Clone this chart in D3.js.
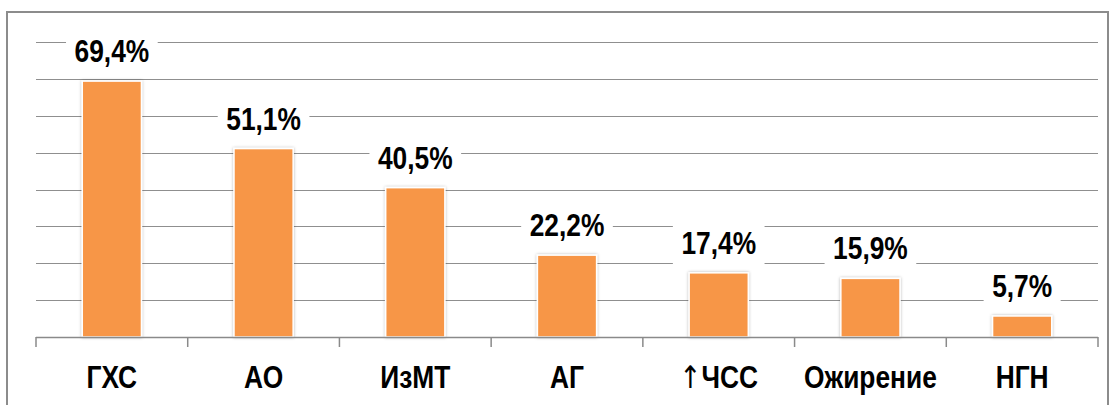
<!DOCTYPE html>
<html>
<head>
<meta charset="utf-8">
<script src="https://cdn.jsdelivr.net/npm/d3@7"></script>
<style>
  body { margin: 0; background: #fff; }
  svg text { font-family: "Liberation Sans Narrow", "Arial Narrow", "Liberation Sans", Arial, sans-serif; font-weight: bold; }
</style>
</head>
<body>
<div id="chart"></div>
<script>
var categories = ["ГХС", "АО", "ИзМТ", "АГ", "↑ЧСС", "Ожирение", "НГН"];
var values = [69.4, 51.1, 40.5, 22.2, 17.4, 15.9, 5.7];
var gridTicks = [10, 20, 30, 40, 50, 60, 70, 80];

var width = 1116, height = 405;
var plotLeft = 36, plotRight = 1098, plotTop = 42, plotBottom = 337;
var squeeze = 0.85; // narrow font look

var svg = d3.select("#chart").append("svg").attr("width", width).attr("height", height);

var defs = svg.append("defs");
var f = defs.append("filter").attr("id", "shadow").attr("x", "-20%").attr("y", "-20%").attr("width", "140%").attr("height", "140%");
f.append("feDropShadow").attr("dx", 0).attr("dy", 0).attr("stdDeviation", 1.5).attr("flood-color", "#000").attr("flood-opacity", 0.3);

// outer border
svg.append("rect").attr("x", 7).attr("y", 12).attr("width", 1101).attr("height", 400)
    .attr("fill", "none").attr("stroke", "#8c8c8c").attr("stroke-width", 2);

var x = d3.scaleBand().domain(categories).range([plotLeft, plotRight]).paddingInner(0.61).paddingOuter(0.305);
var y = d3.scaleLinear().domain([0, 80]).range([plotBottom, plotTop]);

// gridlines
svg.append("g").selectAll("line").data(gridTicks).enter().append("line")
    .attr("x1", plotLeft).attr("x2", plotRight)
    .attr("y1", function (d) { return Math.round(y(d)) + 0.5; })
    .attr("y2", function (d) { return Math.round(y(d)) + 0.5; })
    .attr("stroke", "#8f8f8f").attr("stroke-width", 1.2);

// bars
svg.append("g").selectAll("rect").data(values).enter().append("rect")
    .attr("x", function (d, i) { return x(categories[i]); })
    .attr("y", function (d) { return y(d); })
    .attr("width", x.bandwidth())
    .attr("height", function (d) { return y(0) - y(d); })
    .attr("fill", "#F79646")
    .attr("stroke", "#fff").attr("stroke-width", 1.5)
    .attr("filter", "url(#shadow)");

// x axis with ticks on band boundaries
var axis = svg.append("g");
axis.append("line").attr("x1", plotLeft).attr("x2", plotRight).attr("y1", plotBottom + 0.5).attr("y2", plotBottom + 0.5)
    .attr("stroke", "#8a8a8a").attr("stroke-width", 1.5);
var bounds = d3.range(categories.length + 1).map(function (i) { return plotLeft + i * (plotRight - plotLeft) / categories.length; });
axis.selectAll("line.tick").data(bounds).enter().append("line").attr("class", "tick")
    .attr("x1", function (d) { return d; }).attr("x2", function (d) { return d; })
    .attr("y1", plotBottom).attr("y2", plotBottom + 10)
    .attr("stroke", "#8a8a8a").attr("stroke-width", 1.5);

var catText = axis.selectAll("text").data(categories).enter().append("text")
    .attr("transform", function (d) { return "translate(" + (x(d) + x.bandwidth() / 2) + ",388) scale(" + squeeze + ",1)"; })
    .attr("text-anchor", "middle")
    .attr("font-size", 31)
    .attr("fill", "#000");
catText.each(function (d) {
    var t = d3.select(this);
    if (d.charAt(0) === "↑") {
        t.append("tspan").style("font-family", "'DejaVu Sans'").style("font-weight", "normal").attr("fill", "#000").text("↑");
        t.append("tspan").text(d.slice(1));
    } else {
        t.text(d);
    }
});

// value labels with white boxes
var lab = svg.append("g").selectAll("g").data(values).enter().append("g")
    .attr("transform", function (d, i) { return "translate(" + (x(categories[i]) + x.bandwidth() / 2) + "," + (y(d) - 19) + ") scale(" + squeeze + ",1)"; });
lab.append("text")
    .attr("text-anchor", "middle")
    .attr("font-size", 31)
    .attr("fill", "#000")
    .text(function (d) { return d3.format(".1f")(d).replace(".", ",") + "%"; });
lab.each(function () {
    var g = d3.select(this);
    var bb = g.select("text").node().getBBox();
    g.insert("rect", "text")
        .attr("x", bb.x - 10).attr("y", bb.y - 4)
        .attr("width", bb.width + 20).attr("height", bb.height + 8)
        .attr("fill", "#fff");
});
</script>
</body>
</html>
